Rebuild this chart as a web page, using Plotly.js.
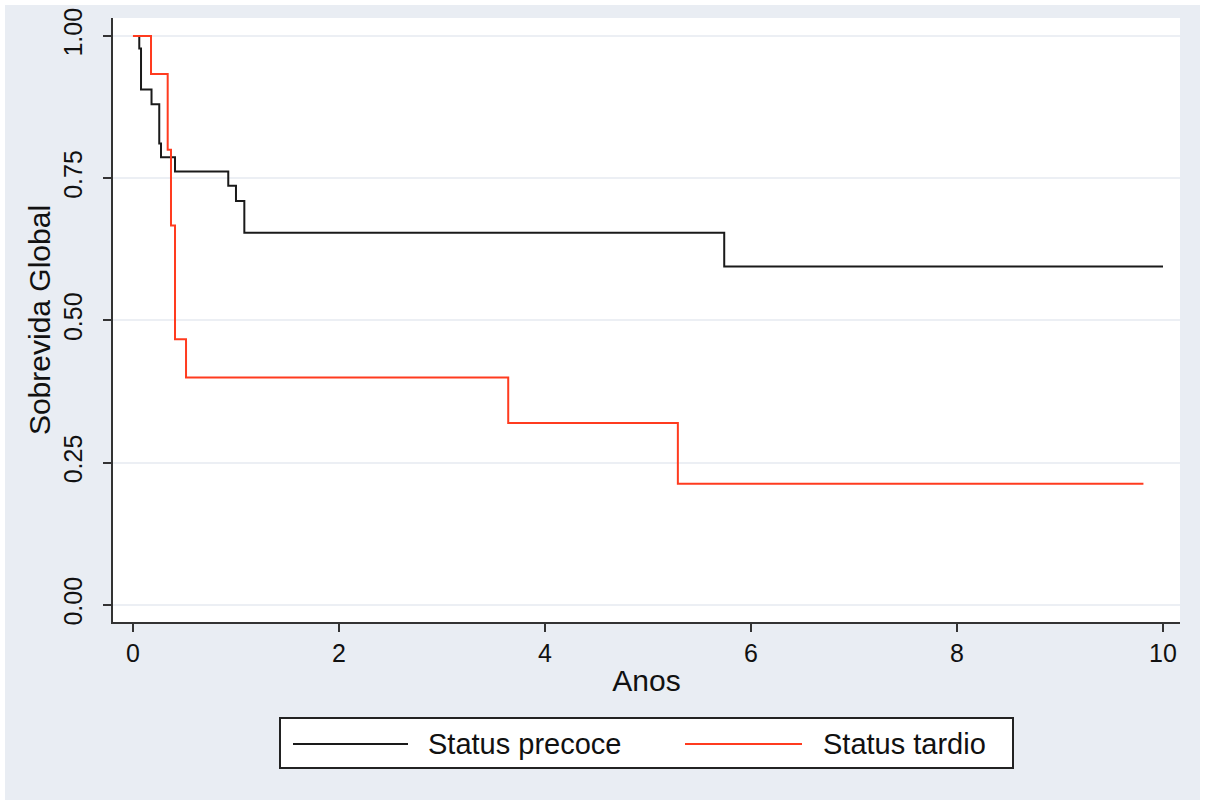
<!DOCTYPE html>
<html>
<head>
<meta charset="utf-8">
<script src="https://cdn.plot.ly/plotly-3.0.1.min.js"></script>
<style>
  html, body { margin: 0; padding: 0; background: #ffffff; }
  #chart { position: absolute; left: 5px; top: 5px; width: 1195px; height: 795px; }
</style>
</head>
<body>
<div id="chart"></div>
<script>
// Kaplan-Meier overall survival by status group (step functions)
const seriesNames = ['Status precoce', 'Status tardio'];

const precoceTime = [0, 0.061, 0.078, 0.18, 0.255, 0.272, 0.408, 0.925, 1.0, 1.081, 5.74, 10.0];
const precoceSurv = [1.0, 0.978, 0.906, 0.880, 0.811, 0.787, 0.762, 0.737, 0.710, 0.654, 0.595, 0.595];

const tardioTime = [0, 0.175, 0.337, 0.369, 0.408, 0.515, 3.643, 5.29, 9.81];
const tardioSurv = [1.0, 0.933, 0.800, 0.667, 0.467, 0.400, 0.320, 0.213, 0.213];

const xTickVals = [0, 2, 4, 6, 8, 10];
const yTickVals = [0, 0.25, 0.5, 0.75, 1.0];
const yTickText = ['0.00', '0.25', '0.50', '0.75', '1.00'];

const colors = ['#1a1a1a', '#ff3b1f'];

const W = 1195, H = 795;
const M = { l: 108, r: 20, t: 13, b: 178 };
const pw = W - M.l - M.r, ph = H - M.t - M.b;
// pixel position inside the figure -> paper coordinates
const px = x => (x - M.l) / pw;
const py = y => (H - M.b - y) / ph;

const font = 'Arial, "Liberation Sans", sans-serif';
const ink = '#111111';

const traces = [
  { x: precoceTime, y: precoceSurv, name: seriesNames[0] },
  { x: tardioTime, y: tardioSurv, name: seriesNames[1] }
].map((t, i) => ({
  type: 'scatter', mode: 'lines', x: t.x, y: t.y, name: t.name,
  line: { shape: 'hv', color: colors[i], width: 2 },
  hoverinfo: 'skip'
}));

// Legend drawn as a boxed row below the plot
const legendBox = { x0: 275, x1: 1008, y0: 713, y1: 763 };
const legendMidY = 739;
const legendItems = [
  { lineX0: 288, lineX1: 403, textX: 421 },
  { lineX0: 680, lineX1: 797, textX: 816 }
];

const shapes = [{
  type: 'rect', xref: 'paper', yref: 'paper',
  x0: px(legendBox.x0), x1: px(legendBox.x1), y0: py(legendBox.y0), y1: py(legendBox.y1),
  fillcolor: '#ffffff', line: { color: '#222222', width: 2 }
}];
const annotations = [];
legendItems.forEach((it, i) => {
  shapes.push({
    type: 'line', xref: 'paper', yref: 'paper',
    x0: px(it.lineX0), x1: px(it.lineX1), y0: py(legendMidY), y1: py(legendMidY),
    line: { color: colors[i], width: 2 }
  });
  annotations.push({
    xref: 'paper', yref: 'paper', x: px(it.textX), y: py(legendMidY),
    xanchor: 'left', yanchor: 'middle', showarrow: false,
    text: seriesNames[i], font: { family: font, size: 29, color: ink }
  });
});

const layout = {
  width: W, height: H,
  margin: M,
  paper_bgcolor: '#e9edf3',
  plot_bgcolor: '#ffffff',
  showlegend: false,
  xaxis: {
    range: [-0.194, 10.165],
    tickvals: xTickVals,
    ticks: 'outside', ticklen: 8, tickwidth: 2, tickcolor: '#333333',
    showline: true, linecolor: '#333333', linewidth: 2,
    showgrid: false, zeroline: false,
    tickfont: { family: font, size: 25, color: ink },
    title: { text: 'Anos', font: { family: font, size: 30, color: ink }, standoff: 4 }
  },
  yaxis: {
    range: [-0.0299, 1.0316],
    tickvals: yTickVals, ticktext: yTickText, tickangle: -90,
    ticks: 'outside', ticklen: 8, tickwidth: 2, tickcolor: '#333333',
    ticklabelstandoff: 11,
    showline: true, linecolor: '#333333', linewidth: 2,
    showgrid: true, gridcolor: '#eceff4', gridwidth: 2, zeroline: false,
    tickfont: { family: font, size: 25, color: ink },
    title: { text: 'Sobrevida Global', font: { family: font, size: 30, color: ink }, standoff: 0 }
  },
  shapes: shapes,
  annotations: annotations
};

Plotly.newPlot('chart', traces, layout, { staticPlot: true, displayModeBar: false });
</script>
</body>
</html>
